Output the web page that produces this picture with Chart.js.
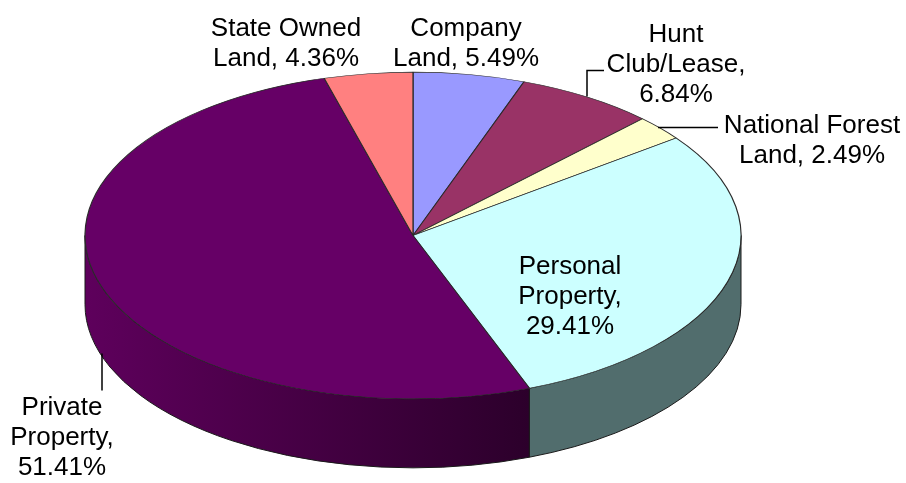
<!DOCTYPE html>
<html>
<head>
<meta charset="utf-8">
<script src="https://cdn.jsdelivr.net/npm/chart.js@4.4.1/dist/chart.umd.min.js"></script>
<style>
    html, body { margin: 0; padding: 0; background: #fff; }
    #wrap { width: 906px; height: 483px; position: relative; }
</style>
</head>
<body>
<div id="wrap"><canvas id="landChart"></canvas></div>
<script>
// Slices, clockwise from 12 o'clock
const categories = ['Company Land', 'Hunt Club/Lease', 'National Forest Land', 'Personal Property', 'Private Property', 'State Owned Land'];
const shares = [5.49, 6.84, 2.49, 29.41, 51.41, 4.36];

// Label wording: name lines, and whether the percentage sits on its own line
const labelNames = [['Company', 'Land,'], ['Hunt', 'Club/Lease,'], ['National Forest', 'Land,'], ['Personal', 'Property,'], ['Private', 'Property,'], ['State Owned', 'Land,']];
const pctOwnLine = [false, true, false, true, true, false];

const topColors = ['#9999FF', '#993366', '#FFFFCC', '#CCFFFF', '#660066', '#FF8080'];
const sideColors = ['#5c5c99', '#5c1f3d', '#99997a', '#516d6d', ['#5e005c', '#2c002b'], '#994d4d'];

// Label placement relative to the pie centre: [dx, first baseline dy]
const labelPlace = [[53, -200], [263, -194], [399, -103], [157, 38], [-351, 179], [-127, -200]];
// Leader lines relative to the pie centre
const leaders = [null, [[174, -139], [174, -165], [191, -165]], [[245, -108], [305, -108]], null, [[-311, 118], [-311, 155]], null];

const TILT = 0.498;
const DEPTH = 69;
const LINE_H = 30;

function labelLines(i) {
    const pct = shares[i].toFixed(2) + '%';
    const lines = labelNames[i].slice();
    if (pctOwnLine[i]) {
        lines.push(pct);
    } else {
        lines[lines.length - 1] += ' ' + pct;
    }
    return lines;
}

// Fake 3D: side walls under the front half, top face squashed vertically
const pie3d = {
    id: 'pie3d',
    beforeDatasetsDraw(chart) {
        const ctx = chart.ctx;
        const arcs = chart.getDatasetMeta(0).data;
        const cx = arcs[0].x, cy = arcs[0].y, r = arcs[0].outerRadius;
        const ry = r * TILT;

        arcs.forEach((arc, i) => {
            const a1 = Math.max(arc.startAngle, 0);
            const a2 = Math.min(arc.endAngle, Math.PI);
            if (a2 <= a1) return;
            ctx.save();
            ctx.beginPath();
            ctx.ellipse(cx, cy, r, ry, 0, a1, a2);
            ctx.ellipse(cx, cy + DEPTH, r, ry, 0, a2, a1, true);
            ctx.closePath();
            const sc = sideColors[i];
            if (Array.isArray(sc)) {
                const xa = cx + r * Math.cos(a2), xb = cx + r * Math.cos(a1);
                const g = ctx.createLinearGradient(xa, 0, xb, 0);
                g.addColorStop(0, sc[0]);
                g.addColorStop(1, sc[1]);
                ctx.fillStyle = g;
            } else {
                ctx.fillStyle = sc;
            }
            ctx.fill();
            ctx.lineWidth = 1;
            ctx.strokeStyle = '#1a1a1a';
            ctx.stroke();
            ctx.restore();
        });

        ctx.save();
        ctx.translate(cx, cy);
        ctx.scale(1, TILT);
        ctx.translate(-cx, -cy);
    },
    afterDatasetsDraw(chart) {
        chart.ctx.restore();
    },
    afterDraw(chart) {
        const ctx = chart.ctx;
        const arcs = chart.getDatasetMeta(0).data;
        const cx = arcs[0].x, cy = arcs[0].y;
        ctx.save();
        ctx.strokeStyle = '#000';
        ctx.lineWidth = 1.5;
        leaders.forEach(pts => {
            if (!pts) return;
            ctx.beginPath();
            pts.forEach((p, k) => {
                if (k === 0) ctx.moveTo(cx + p[0], cy + p[1]);
                else ctx.lineTo(cx + p[0], cy + p[1]);
            });
            ctx.stroke();
        });
        ctx.fillStyle = '#000';
        ctx.font = '26px "Liberation Sans", Arial, sans-serif';
        ctx.textAlign = 'center';
        ctx.textBaseline = 'alphabetic';
        categories.forEach((c, i) => {
            const [dx, dy] = labelPlace[i];
            labelLines(i).forEach((t, k) => {
                ctx.fillText(t, cx + dx, cy + dy + k * LINE_H);
            });
        });
        ctx.restore();
    }
};

new Chart(document.getElementById('landChart'), {
    type: 'pie',
    data: {
        labels: categories,
        datasets: [{
            data: shares,
            backgroundColor: topColors,
            borderColor: '#2a2a2a',
            borderWidth: 1.2,
            clip: false
        }]
    },
    options: {
        responsive: true,
        maintainAspectRatio: false,
        animation: false,
        events: [],
        radius: 328,
        layout: {
            padding: { left: 0, right: 80, top: 0, bottom: 12 }
        },
        plugins: {
            legend: { display: false },
            tooltip: { enabled: false },
            title: { display: false }
        }
    },
    plugins: [pie3d]
});
</script>
</body>
</html>
